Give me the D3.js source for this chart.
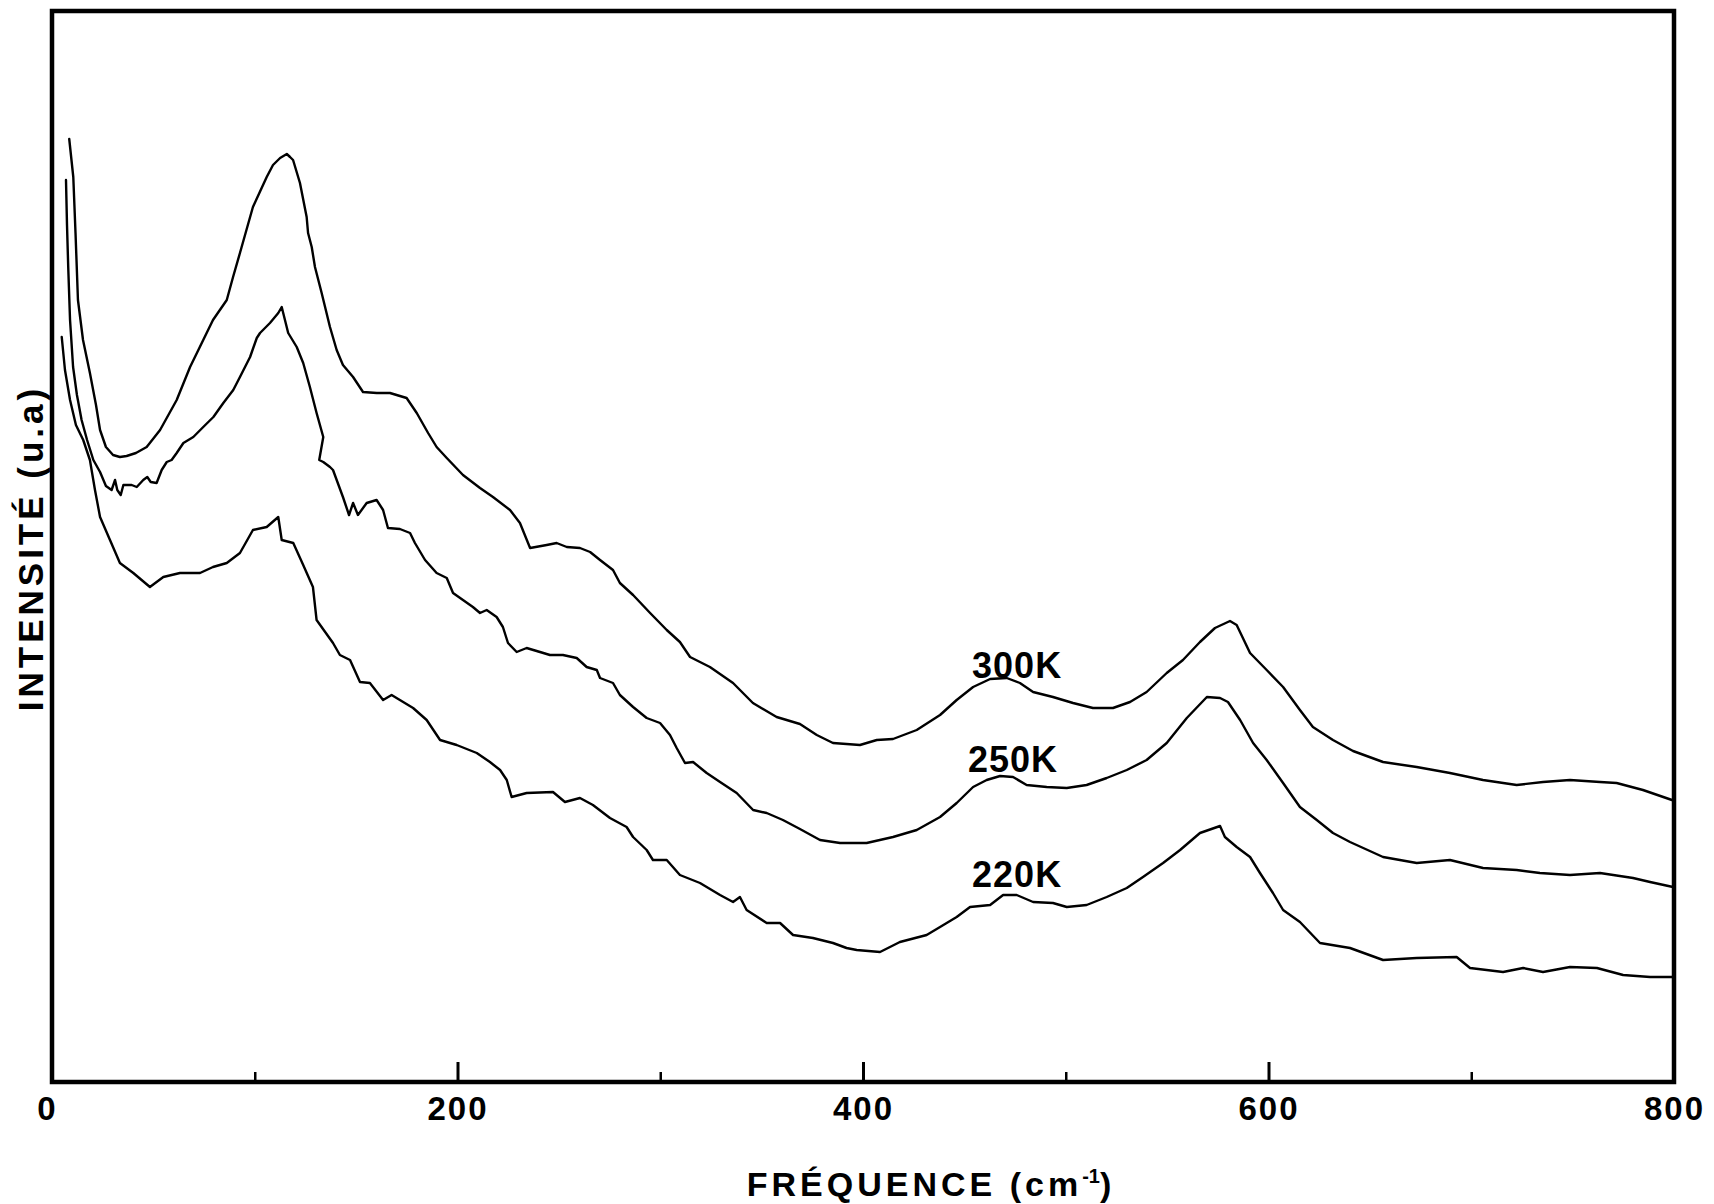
<!DOCTYPE html>
<html><head><meta charset="utf-8">
<script src="https://cdn.jsdelivr.net/npm/d3@7/dist/d3.min.js"></script>
<style>body{margin:0;background:#fff;}svg{display:block}</style>
</head><body>
<svg id="chart" width="1714" height="1204"></svg>
<script>
// ---- data (frequency in cm-1, intensity in arbitrary units) ----
const freq300 = [8.5,10.5,11.6,12.8,15.3,18.7,21.7,23.7,26.6,30.1,33.5,36.8,41.4,46.7,53.3,61.5,68.1,79.4,86.2,89.3,92.7,99.1,105.9,109.0,112.5,115.8,117.4,118.9,122.3,125.6,126.3,128.1,129.7,133.0,137.1,140.4,143.5,148.5,153.4,160.2,166.7,174.9,179.9,185.5,189.7,194.7,202.7,211.1,217.5,225.9,230.8,235.8,244.0,248.9,253.9,260.4,265.4,270.3,276.7,280.1,286.6,295.0,303.2,309.7,314.7,324.5,335.9,345.7,357.4,368.9,377.2,385.2,398.5,406.8,414.8,426.5,438.0,446.2,454.3,462.7,470.9,477.4,483.9,493.7,503.6,513.4,523.3,531.7,539.9,549.8,557.8,566.2,573.6,581.0,584.3,590.9,599.1,607.2,615.5,621.9,631.8,641.7,656.5,673.1,689.5,705.8,722.4,735.4,748.7,763.5,771.7,784.7,799.0];
const int300 = [94.3,90.5,84.9,78.2,74.2,70.9,67.7,65.2,63.5,62.7,62.5,62.6,62.9,63.5,65.2,68.2,71.5,76.2,78.2,80.5,82.9,87.5,90.5,91.7,92.4,92.8,92.5,92.2,89.9,86.5,84.9,83.5,81.5,78.9,75.5,73.2,71.7,70.5,69.0,68.9,68.9,68.4,66.9,64.9,63.5,62.4,60.7,59.4,58.5,57.2,55.9,53.4,53.7,53.9,53.5,53.4,53.0,52.2,51.2,49.9,48.7,46.9,45.2,44.0,42.5,41.5,39.9,37.9,36.5,35.8,34.7,33.9,33.7,34.2,34.3,35.2,36.7,38.2,39.5,40.3,40.4,39.9,39.0,38.5,37.9,37.4,37.4,38.0,39.0,40.9,42.2,44.0,45.4,46.1,45.7,42.9,41.2,39.5,37.2,35.5,34.2,33.1,32.0,31.5,30.9,30.2,29.7,30.0,30.2,30.0,29.9,29.2,28.2];

const freq250 = [6.9,7.4,8.0,8.9,10.4,12.3,14.6,17.3,20.4,23.7,26.6,29.4,31.1,32.2,33.9,35.2,39.3,41.8,45.0,47.0,48.7,51.6,54.1,56.6,59.0,61.5,64.8,69.7,74.6,79.6,84.5,89.4,92.7,97.7,101.0,102.6,107.5,111.6,113.3,114.9,116.5,120.7,123.9,127.2,130.5,133.8,131.8,133.8,137.1,138.6,143.5,146.5,148.5,150.9,155.2,160.1,163.3,165.7,171.6,176.6,179.0,184.0,189.7,194.7,197.8,202.7,207.6,211.1,214.4,219.3,222.4,224.9,229.2,234.1,240.7,245.6,252.0,258.8,263.7,268.7,270.3,276.7,280.1,286.6,293.3,299.9,304.8,308.1,312.2,316.2,322.9,329.5,337.7,345.8,352.5,360.5,368.9,378.8,388.7,401.8,414.8,426.5,438.0,446.2,454.3,461.0,467.6,474.0,480.7,490.6,500.5,510.3,520.2,530.1,539.9,549.8,559.7,569.6,576.1,580.0,586.0,592.4,599.1,607.2,615.5,623.8,631.8,640.2,656.5,673.1,689.5,705.8,722.4,733.9,748.7,763.5,779.8,788.2,799.5];
const int250 = [90.2,85.7,81.5,76.2,71.5,68.7,66.2,64.2,62.2,61.0,59.6,59.2,60.2,59.2,58.7,59.7,59.7,59.5,60.2,60.5,60.0,59.9,61.2,62.0,62.2,62.9,63.9,64.5,65.5,66.5,67.9,69.2,70.5,72.5,74.4,74.9,75.9,76.9,77.5,76.2,74.9,73.5,71.9,69.5,66.9,64.5,62.2,62.0,61.5,61.2,58.5,56.7,57.9,56.7,57.9,58.2,57.2,55.4,55.3,54.9,53.9,52.2,50.9,50.4,48.9,48.2,47.5,46.9,47.2,46.5,45.5,43.9,43.0,43.4,43.0,42.7,42.7,42.4,41.5,41.2,40.4,39.9,38.7,37.5,36.4,35.9,34.7,33.4,31.9,32.0,30.9,30.0,28.9,27.2,26.9,26.2,25.3,24.2,23.9,23.9,24.5,25.2,26.5,27.9,29.5,30.2,30.6,30.5,29.7,29.5,29.4,29.7,30.4,31.2,32.2,33.9,36.4,38.5,38.4,38.0,36.2,33.9,32.2,29.9,27.5,26.2,24.9,24.0,22.5,21.9,22.2,21.4,21.2,20.9,20.7,20.9,20.4,20.0,19.5];

const freq220 = [4.8,6.4,8.9,11.8,15.4,18.7,21.2,23.7,28.6,33.5,40.1,48.3,54.9,63.1,73.0,79.4,86.2,92.7,99.1,105.9,111.6,113.3,119.0,123.9,128.7,130.5,138.6,142.0,147.0,151.9,156.8,163.3,167.5,178.1,184.8,191.4,199.6,209.5,216.0,221.0,224.3,226.7,234.1,247.1,253.0,260.4,266.8,275.2,283.4,286.6,293.3,296.4,303.2,309.7,319.6,329.5,335.9,339.3,342.6,352.5,359.1,365.5,375.3,385.2,391.9,396.9,408.4,418.2,431.4,438.0,446.2,452.8,462.7,469.1,475.8,483.9,493.7,500.5,510.3,520.2,530.1,538.1,548.0,556.4,566.2,576.1,578.5,584.3,590.9,595.8,602.2,607.2,615.5,625.4,640.2,656.5,673.1,692.8,699.4,715.7,725.6,735.4,748.7,762.0,774.9,788.2,799.5];
const int220 = [74.5,71.2,68.2,65.7,64.2,62.2,59.2,56.5,54.2,51.9,50.9,49.5,50.5,50.9,50.9,51.5,51.9,52.9,55.2,55.5,56.5,54.2,53.9,51.7,49.5,46.2,43.9,42.7,42.2,40.0,39.9,38.2,38.7,37.4,36.2,34.2,33.7,32.9,32.0,31.2,30.2,28.5,28.9,29.0,28.0,28.4,27.7,26.4,25.5,24.5,23.2,22.2,22.2,20.7,19.9,18.7,18.0,18.5,17.2,15.9,15.9,14.7,14.4,13.9,13.4,13.2,13.0,14.0,14.7,15.5,16.5,17.5,17.7,18.7,18.7,18.0,17.9,17.5,17.7,18.5,19.4,20.5,21.9,23.2,24.9,25.6,24.5,23.5,22.5,20.9,18.9,17.2,16.0,13.9,13.4,12.2,12.4,12.5,11.4,11.0,11.4,11.0,11.5,11.4,10.7,10.5,10.5];

const seriesNames = ["300K", "250K", "220K"];
const majorTicks = [0, 200, 400, 600, 800];
const minorTicks = [100, 300, 500, 700];
const xTitle = "FRÉQUENCE (cm";
const xTitleSup = "-1";
const yTitle = "INTENSITÉ (u.a)";

// label anchors (frequency, intensity)
const labelAnchors = [[453.8, 40.4], [451.8, 31.0], [453.8, 19.5]];

// ---- drawing ----
const svg = d3.select("#chart");
const FONT = "'Liberation Sans', Arial, Helvetica, sans-serif";
const x = d3.scaleLinear().domain([0, 800]).range([52, 1674]);
const y = d3.scaleLinear().domain([0, 107.1]).range([1082, 11]);

const series = [
  freq300.map((f, i) => [f, int300[i]]),
  freq250.map((f, i) => [f, int250[i]]),
  freq220.map((f, i) => [f, int220[i]])
];

const line = d3.line().x(d => x(d[0])).y(d => y(d[1])).curve(d3.curveLinear);

svg.append("g").selectAll("path").data(series).join("path")
  .attr("d", line)
  .attr("fill", "none")
  .attr("stroke", "#000")
  .attr("stroke-width", 2.4)
  .attr("stroke-linejoin", "round")
  .attr("stroke-linecap", "round");

// frame
svg.append("rect")
  .attr("x", x(0)).attr("y", y(107.1))
  .attr("width", x(800) - x(0)).attr("height", y(0) - y(107.1))
  .attr("fill", "none").attr("stroke", "#000").attr("stroke-width", 4.5);

// axes ticks
const axMaj = svg.append("g").attr("transform", `translate(0,${y(0)})`)
  .call(d3.axisBottom(x).tickValues(majorTicks).tickSize(-20).tickPadding(15).tickFormat(d3.format("d")));
axMaj.select(".domain").remove();
axMaj.selectAll("line").attr("stroke", "#000").attr("stroke-width", 3);
axMaj.selectAll("text").attr("font-family", FONT).attr("font-size", 33).attr("font-weight", "bold").attr("fill", "#000").style("letter-spacing", "2px");
axMaj.selectAll("text").filter(d => d === 0).attr("dx", -5);

const axMin = svg.append("g").attr("transform", `translate(0,${y(0)})`)
  .call(d3.axisBottom(x).tickValues(minorTicks).tickSize(-10).tickFormat(""));
axMin.select(".domain").remove();
axMin.selectAll("line").attr("stroke", "#000").attr("stroke-width", 2.5);

// series labels
svg.append("g").selectAll("text").data(seriesNames).join("text")
  .attr("x", (d, i) => x(labelAnchors[i][0]))
  .attr("y", (d, i) => y(labelAnchors[i][1]))
  .attr("font-family", FONT).attr("font-size", 36).attr("font-weight", "bold")
  .style("letter-spacing", "1px")
  .text(d => d);

// x title
const xt = svg.append("text")
  .attr("x", 931).attr("y", 1196)
  .attr("text-anchor", "middle")
  .attr("font-family", FONT).attr("font-size", 34).attr("font-weight", "bold")
  .style("letter-spacing", "4px");
xt.append("tspan").text(xTitle);
xt.append("tspan").attr("font-size", 20).attr("dy", -13).style("letter-spacing", "0px").text(xTitleSup);
xt.append("tspan").attr("dy", 13).text(")");

// y title
svg.append("text")
  .attr("transform", "translate(43,548) rotate(-90)")
  .attr("text-anchor", "middle")
  .attr("font-family", FONT).attr("font-size", 35).attr("font-weight", "bold")
  .style("letter-spacing", "4px")
  .text(yTitle);
</script>
</body></html>
